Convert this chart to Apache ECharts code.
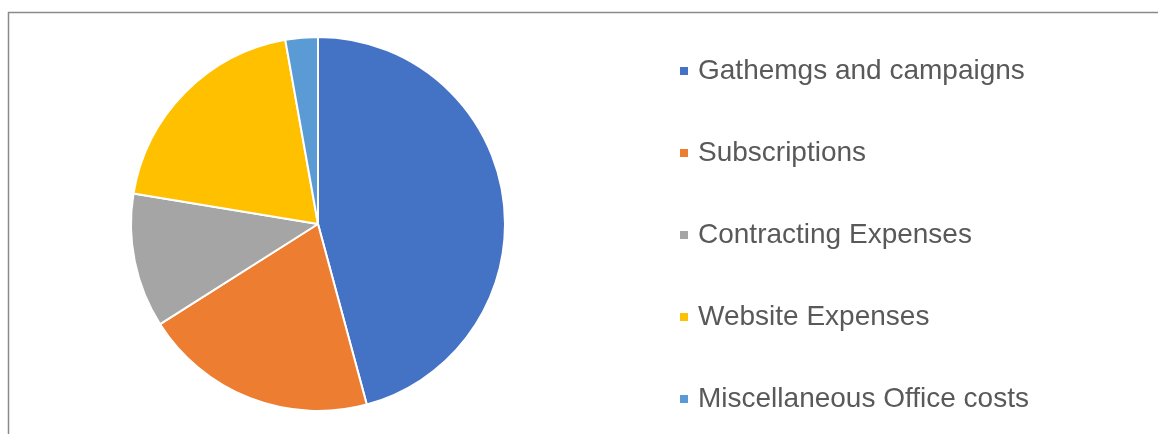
<!DOCTYPE html>
<html>
<head>
<meta charset="utf-8">
<script src="https://cdn.jsdelivr.net/npm/echarts@6/dist/echarts.min.js"></script>
<style>
  html, body { margin: 0; padding: 0; background: #fff; }
  #chart { width: 1158px; height: 434px; }
</style>
</head>
<body>
<div id="chart"></div>
<script>
// 各项支出占比（从图上估读，单位 %）
const categories = [
  'Gathemgs and campaigns',
  'Subscriptions',
  'Contracting Expenses',
  'Website Expenses',
  'Miscellaneous Office costs'
]
const shares = [45.8, 20.2, 11.6, 19.6, 2.8]
const sliceColors = ['#4472C4', '#ED7D31', '#A5A5A5', '#FFC000', '#5B9BD5']

const chart = echarts.init(document.getElementById('chart'))

chart.setOption({
  animation: false,
  color: sliceColors,
  // 外框（只看得到左边和上边）
  graphic: [
    {
      type: 'rect',
      shape: { x: 8.5, y: 12.5, width: 1300, height: 600 },
      style: { fill: 'none', stroke: '#8a8a8a', lineWidth: 1.5 },
      z: 100
    }
  ],
  legend: {
    orient: 'vertical',
    left: 673,
    top: 52,
    itemWidth: 10,
    itemHeight: 10,
    itemGap: 54,
    icon: 'rect',
    textStyle: {
      fontFamily: 'Liberation Sans, Arial, sans-serif',
      fontSize: 28,
      color: '#595959',
      padding: [0, 0, 0, 4]
    },
    data: categories
  },
  series: [
    {
      type: 'pie',
      center: [318, 224],
      radius: 187,
      startAngle: 90,
      clockwise: true,
      label: { show: false },
      labelLine: { show: false },
      itemStyle: { borderColor: '#fff', borderWidth: 2 },
      emphasis: { disabled: true },
      data: categories.map((name, i) => ({ name, value: shares[i] }))
    }
  ]
})
</script>
</body>
</html>
